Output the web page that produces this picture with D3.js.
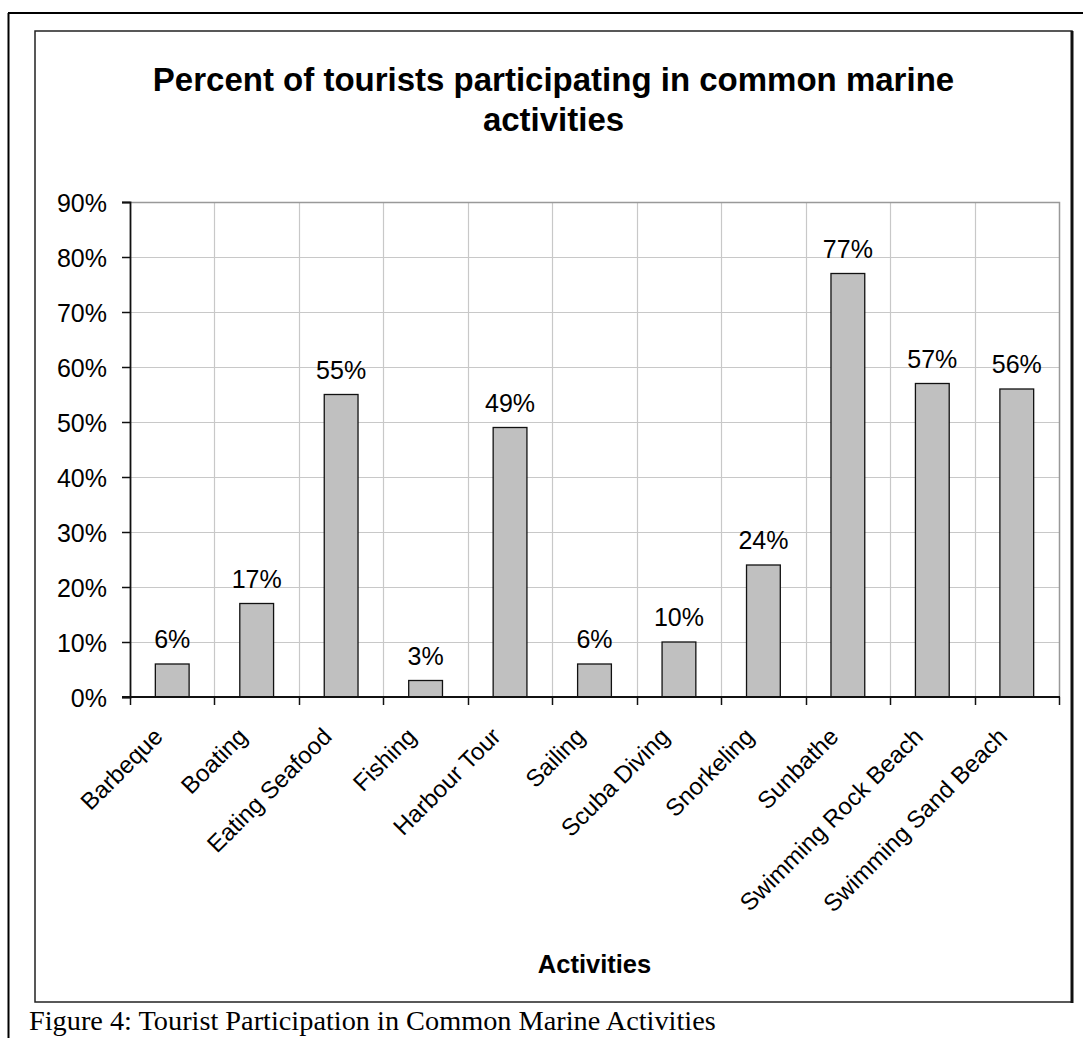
<!DOCTYPE html>
<html>
<head>
<meta charset="utf-8">
<script src="https://cdn.jsdelivr.net/npm/d3@7"></script>
<style>
  html, body { margin: 0; padding: 0; background: #fff; }
  svg { display: block; }
</style>
</head>
<body>
<svg id="chart" width="1083" height="1038"></svg>
<script>
// Activities surveyed and share of tourists taking part (percent)
const activities = [
  "Barbeque", "Boating", "Eating Seafood", "Fishing", "Harbour Tour", "Sailing",
  "Scuba Diving", "Snorkeling", "Sunbathe", "Swimming Rock Beach", "Swimming Sand Beach"
];
const participation = [6, 17, 55, 3, 49, 6, 10, 24, 77, 57, 56];
const yTickValues = [0, 10, 20, 30, 40, 50, 60, 70, 80, 90];
const titleLines = ["Percent of tourists participating in common marine", "activities"];
const xAxisTitle = "Activities";
const caption = "Figure 4: Tourist Participation in Common Marine Activities";

const svg = d3.select("#chart");
const sans = "Arial, 'Liberation Sans', Helvetica, sans-serif";
const labelSize = 25;
const categorySize = 24;

// Page frame lines (left and top)
svg.append("line").attr("x1", 8.5).attr("y1", 13).attr("x2", 8.5).attr("y2", 1038)
  .attr("stroke", "#000").attr("stroke-width", 2);
svg.append("line").attr("x1", 8).attr("y1", 13).attr("x2", 1083).attr("y2", 13)
  .attr("stroke", "#000").attr("stroke-width", 2);

// Chart box
svg.append("rect").attr("x", 35).attr("y", 31).attr("width", 1037).attr("height", 971)
  .attr("fill", "#fff").attr("stroke", "#222").attr("stroke-width", 1.5);
svg.append("line").attr("x1", 1072).attr("y1", 31).attr("x2", 1072).attr("y2", 1003)
  .attr("stroke", "#111").attr("stroke-width", 3);

// Plot area
const plot = { left: 130, right: 1059, top: 202, bottom: 697 };

const x = d3.scaleBand()
  .domain(activities)
  .range([plot.left, plot.right])
  .paddingInner(0.6)
  .paddingOuter(0.3);

const y = d3.scaleLinear()
  .domain([0, 90])
  .range([plot.bottom, plot.top]);

const step = x.step();
const boundaries = d3.range(activities.length + 1).map(i => plot.left + i * step);

// Gridlines
const grid = svg.append("g");
grid.selectAll("line.h").data(yTickValues.filter(v => v > 0)).join("line")
  .attr("x1", plot.left).attr("x2", plot.right)
  .attr("y1", d => Math.round(y(d)) + 0.5).attr("y2", d => Math.round(y(d)) + 0.5)
  .attr("stroke", "#c8c8c8").attr("stroke-width", 1.2);
grid.selectAll("line.v").data(boundaries.slice(1, -1)).join("line")
  .attr("x1", d => Math.round(d) + 0.5).attr("x2", d => Math.round(d) + 0.5)
  .attr("y1", plot.top).attr("y2", plot.bottom)
  .attr("stroke", "#c8c8c8").attr("stroke-width", 1.2);
// Plot area border (top and right)
svg.append("path")
  .attr("d", `M${plot.left},${plot.top + 0.5}H${plot.right + 0.5}V${plot.bottom}`)
  .attr("fill", "none").attr("stroke", "#999").attr("stroke-width", 1.5);

// Bars
svg.append("g").selectAll("rect").data(activities).join("rect")
  .attr("x", d => x(d))
  .attr("width", x.bandwidth())
  .attr("y", (d, i) => y(participation[i]))
  .attr("height", (d, i) => y(0) - y(participation[i]))
  .attr("fill", "#c0c0c0")
  .attr("stroke", "#111")
  .attr("stroke-width", 1.3);

// Value labels
svg.append("g").selectAll("text").data(activities).join("text")
  .attr("x", d => x(d) + x.bandwidth() / 2)
  .attr("y", (d, i) => y(participation[i]) - 16)
  .attr("text-anchor", "middle")
  .attr("font-family", sans).attr("font-size", labelSize).attr("fill", "#000")
  .text((d, i) => participation[i] + "%");

// Y axis
const yAxis = d3.axisLeft(y).tickValues(yTickValues).tickSize(8).tickPadding(15)
  .tickFormat(d => d + "%");
const gy = svg.append("g").attr("transform", `translate(${plot.left},0)`).call(yAxis);
gy.select(".domain").attr("stroke", "#111").attr("stroke-width", 1.8);
gy.selectAll(".tick line").attr("stroke", "#111").attr("stroke-width", 1.5);
gy.selectAll(".tick text").attr("font-family", sans).attr("font-size", labelSize).attr("fill", "#000").attr("dy", "0.36em");

// X axis line and boundary ticks
const gx = svg.append("g");
gx.append("line").attr("x1", plot.left - 8).attr("x2", plot.right + 1)
  .attr("y1", plot.bottom).attr("y2", plot.bottom)
  .attr("stroke", "#111").attr("stroke-width", 1.8);
gx.selectAll("line.tick").data(boundaries).join("line")
  .attr("x1", d => Math.round(d) + 0.5).attr("x2", d => Math.round(d) + 0.5)
  .attr("y1", plot.bottom).attr("y2", plot.bottom + 8)
  .attr("stroke", "#111").attr("stroke-width", 1.5);

// Rotated category labels
gx.selectAll("text").data(activities).join("text")
  .attr("transform", d => `translate(${x(d) + x.bandwidth() / 2 - 8},${plot.bottom + 41}) rotate(-45)`)
  .attr("text-anchor", "end")
  .attr("font-family", sans).attr("font-size", categorySize).attr("fill", "#000")
  .text(d => d);

// Title
svg.append("g").selectAll("text").data(titleLines).join("text")
  .attr("x", 553.5)
  .attr("y", (d, i) => 91 + i * 40)
  .attr("text-anchor", "middle")
  .attr("font-family", sans).attr("font-weight", "bold").attr("font-size", 33).attr("fill", "#000")
  .text(d => d);

// Axis title
svg.append("text")
  .attr("x", (plot.left + plot.right) / 2).attr("y", 973)
  .attr("text-anchor", "middle")
  .attr("font-family", sans).attr("font-weight", "bold").attr("font-size", 25.5).attr("fill", "#000")
  .text(xAxisTitle);

// Figure caption
svg.append("text")
  .attr("x", 29).attr("y", 1030)
  .attr("font-family", "'Times New Roman', 'Liberation Serif', serif").attr("font-size", 28.3).attr("fill", "#000")
  .text(caption);
</script>
</body>
</html>
